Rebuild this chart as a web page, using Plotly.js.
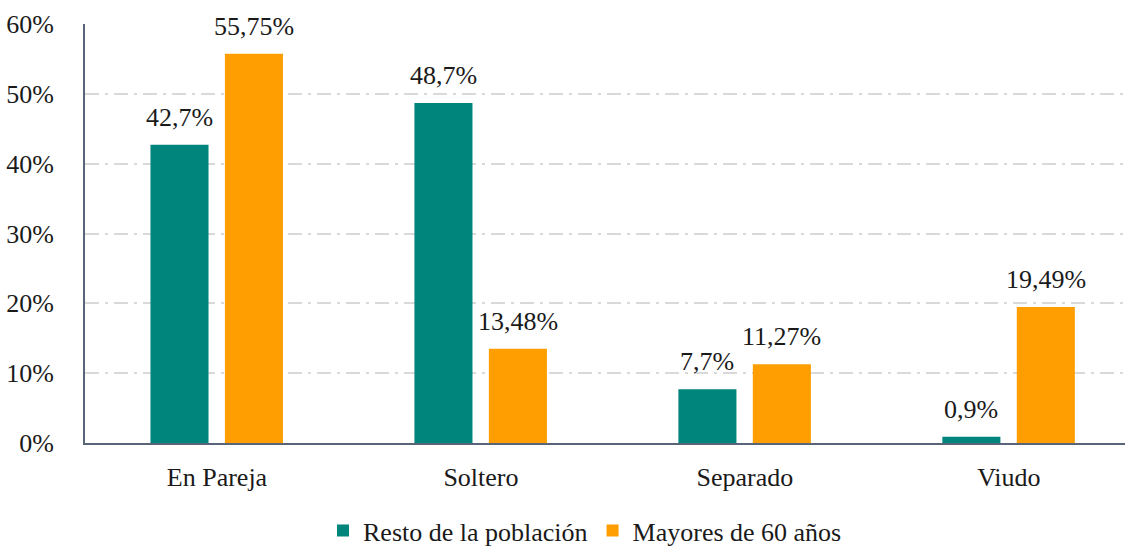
<!DOCTYPE html>
<html>
<head>
<meta charset="utf-8">
<script src="https://cdn.plot.ly/plotly-3.0.1.min.js"></script>
<style>html,body{margin:0;padding:0;background:#fff;}#chart{width:1125px;height:547px;}</style>
</head>
<body>
<div id="chart"></div>
<script>
const categories = ["En Pareja", "Soltero", "Separado", "Viudo"];
const restoPoblacion = [42.7, 48.7, 7.7, 0.9];
const mayores60 = [55.75, 13.48, 11.27, 19.49];
const seriesNames = ["Resto de la población", "Mayores de 60 años"];
const yTicks = [0, 10, 20, 30, 40, 50, 60];

const FONT = "Liberation Serif, serif";
const fmt = v => String(v).replace('.', ',') + '%';
const idx = categories.map((c, i) => i);

const W = 0.22, OFF1 = -0.252, OFF2 = 0.03;

const traces = [
  {type: 'bar', name: seriesNames[0], x: idx, y: restoPoblacion,
   width: W, offset: OFF1, marker: {color: '#00857D'}, hoverinfo: 'none'},
  {type: 'bar', name: seriesNames[1], x: idx, y: mayores60,
   width: W, offset: OFF2, marker: {color: '#FF9E00'}, hoverinfo: 'none'}
];

const annotations = [];
restoPoblacion.forEach((v, i) => annotations.push({
  x: i + OFF1 + W / 2, y: v, xref: 'x', yref: 'y', text: fmt(v), showarrow: false,
  yanchor: 'bottom', yshift: 11, font: {family: FONT, size: 26, color: '#1a1a1a'}
}));
mayores60.forEach((v, i) => annotations.push({
  x: i + OFF2 + W / 2, y: v, xref: 'x', yref: 'y', text: fmt(v), showarrow: false,
  yanchor: 'bottom', yshift: 11, font: {family: FONT, size: 26, color: '#1a1a1a'}
}));

const layout = {
  width: 1125, height: 547,
  margin: {l: 85, r: 0, t: 24, b: 104},
  paper_bgcolor: '#ffffff', plot_bgcolor: '#ffffff',
  font: {family: FONT, size: 26, color: '#1a1a1a'},
  showlegend: true,
  legend: {orientation: 'h', xref: 'container', yref: 'container', x: 0.52, y: 0.03,
           xanchor: 'center', yanchor: 'middle', font: {family: FONT, size: 26, color: '#1a1a1a'},
           itemwidth: 30, tracegroupgap: 0},
  xaxis: {
    range: [-0.5, 3.44], tickmode: 'array', tickvals: idx, ticktext: categories,
    showgrid: false, zeroline: false, showline: true, linecolor: '#5a6478', linewidth: 2,
    ticks: '', ticklabelstandoff: 10, fixedrange: true
  },
  yaxis: {
    range: [0, 60], tickmode: 'array', tickvals: yTicks, ticktext: yTicks.map(t => t + '%'),
    showgrid: true, gridcolor: '#d9d9d9', gridwidth: 1.5, griddash: '14px,6px,3px,6px',
    zeroline: false, showline: true, linecolor: '#5a6478', linewidth: 2,
    ticks: '', ticklabelstandoff: 24, fixedrange: true
  },
  annotations: annotations
};

Plotly.newPlot('chart', traces, layout, {displayModeBar: false});
</script>
</body>
</html>
